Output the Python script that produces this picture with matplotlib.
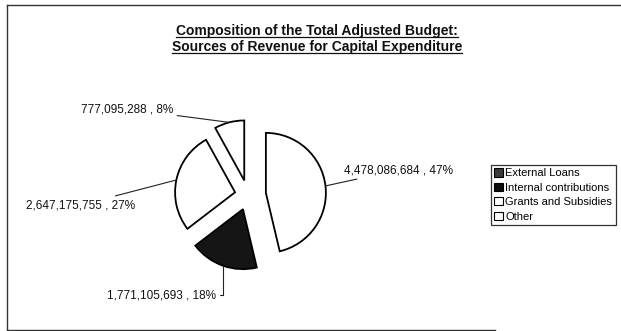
import numpy as np
import matplotlib
matplotlib.use("Agg")
import matplotlib.pyplot as plt
from matplotlib.patches import Patch
from matplotlib.lines import Line2D

plt.rcParams['font.family'] = ['Liberation Sans', 'DejaVu Sans']

# --- data ---
sources = ['External Loans', 'Internal contributions', 'Grants and Subsidies', 'Other']
amounts = [4478086684, 1771105693, 2647175755, 777095288]
percents = [47, 18, 27, 8]
slice_colors = ['white', '#151515', 'white', 'white']
legend_colors = ['#3a3a3a', '#0d0d0d', 'white', 'white']
explode = [0.3, 0.25, 0.22, 0.25]

W, H = 621, 331
fig = plt.figure(figsize=(W / 100, H / 100), dpi=100)


def fx(px):
    return px / W


def fy(py):
    return 1 - py / H


# pie axes: 60 px per data unit in both directions
ax = fig.add_axes([fx(98), fy(295), 300 / W, 200 / H])
wedges, _ = ax.pie(amounts, colors=slice_colors, explode=explode, startangle=90,
                   counterclock=False, radius=1,
                   wedgeprops=dict(edgecolor='black', linewidth=1.3))
ax.set_xlim(-2.5, 2.5)
ax.set_ylim(-5 / 3, 5 / 3)
ax.set_aspect('auto')
ax.axis('off')

# label text anchor (pixel coords) and alignment for each slice
label_pos = [(344, 170, 'left'), (216, 295, 'right'), (135, 205, 'right'), (173, 109, 'right')]

for w, amt, pct, (px, py, ha) in zip(wedges, amounts, percents, label_pos):
    mid = np.deg2rad((w.theta1 + w.theta2) / 2)
    cx, cy = w.center
    arc_pt = (cx + w.r * np.cos(mid), cy + w.r * np.sin(mid))
    if pct == 18:
        conn = 'angle,angleA=0,angleB=90,rad=0'
    else:
        conn = 'arc3'
    ax.annotate(f'{amt:,} , {pct}%', xy=arc_pt, xycoords='data',
                xytext=(fx(px), fy(py)), textcoords='figure fraction',
                ha=ha, va='center', fontsize=8.5, color='#111111',
                arrowprops=dict(arrowstyle='-', color='#222222', lw=0.8,
                                connectionstyle=conn, shrinkA=1, shrinkB=0))

# title, two underlined bold lines
title_lines = ['Composition of the Total Adjusted Budget:',
               'Sources of Revenue for Capital Expenditure']
title_texts = []
for i, line in enumerate(title_lines):
    t = fig.text(fx(317), fy(31 + 16 * i), line, ha='center', va='center',
                 fontsize=10, fontweight='bold', color='#111111')
    title_texts.append(t)

fig.canvas.draw()
renderer = fig.canvas.get_renderer()
for t in title_texts:
    bb = t.get_window_extent(renderer)
    y = bb.y0 + 1
    fig.add_artist(Line2D([bb.x0 / W, bb.x1 / W], [y / H, y / H],
                          transform=fig.transFigure, color='#111111', lw=0.9))

# legend
handles = [Patch(facecolor=c, edgecolor='black', linewidth=0.8) for c in legend_colors]
leg = fig.legend(handles, sources, loc='upper left',
                 bbox_to_anchor=(fx(491), fy(165)), fontsize=8,
                 frameon=True, fancybox=False, edgecolor='black',
                 handlelength=0.75, handleheight=0.75, handletextpad=0.25,
                 labelspacing=0.4, borderpad=0.3, borderaxespad=0)
leg.get_frame().set_linewidth(0.9)

# outer chart border (top, left, bottom)
border = dict(transform=fig.transFigure, color='#333333', lw=1.0)
fig.add_artist(Line2D([fx(7), fx(621)], [fy(5), fy(5)], **border))
fig.add_artist(Line2D([fx(7), fx(7)], [fy(5), fy(330)], **border))
fig.add_artist(Line2D([fx(7), fx(495)], [fy(330), fy(330)], **border))

fig.savefig('out.png', dpi=100, facecolor='white')
